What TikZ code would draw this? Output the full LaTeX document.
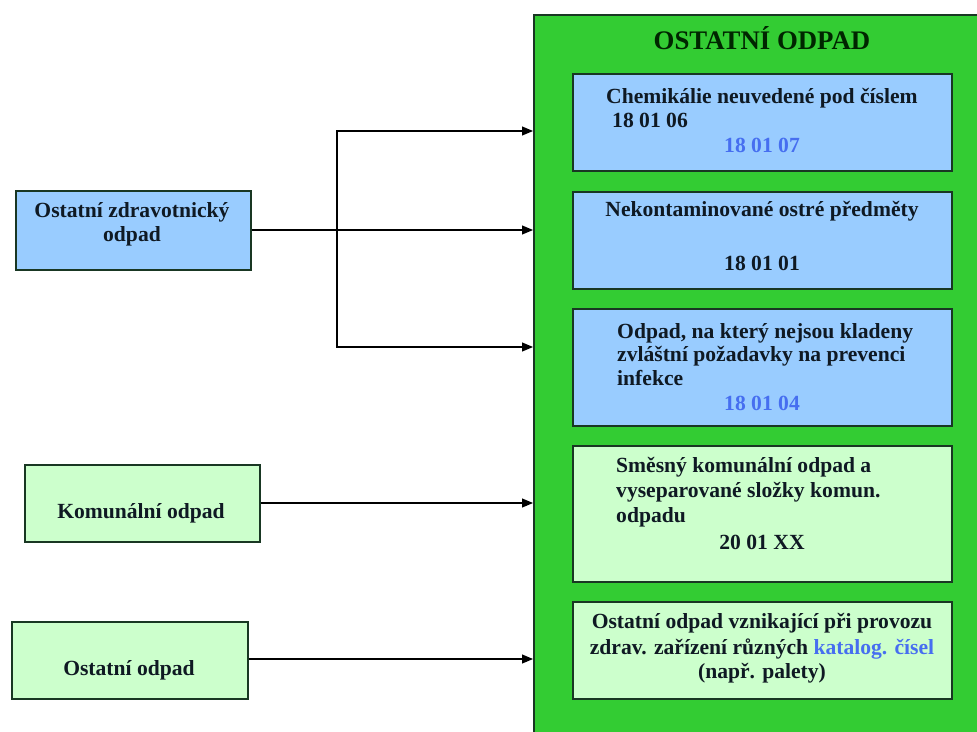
\documentclass[tikz,border=0pt]{standalone}
\usepackage{fontspec}
\setmainfont{Liberation Serif}
\usetikzlibrary{arrows.meta}
\definecolor{bigg}{RGB}{51,204,51}
\definecolor{lblue}{RGB}{153,204,255}
\definecolor{lgreen}{RGB}{204,255,204}
\definecolor{bord}{RGB}{25,55,35}
\definecolor{codeblue}{RGB}{70,110,240}
\definecolor{txt}{RGB}{15,25,35}
\tikzset{
  x=1pt, y=-1pt,
  box/.style={draw=bord, line width=1.6pt, inner sep=0pt},
  bluebox/.style={box, fill=lblue},
  greenbox/.style={box, fill=lgreen},
  tx/.style={inner sep=0pt, text=txt, font=\fontsize{21.6}{22}\selectfont\bfseries},
  arr/.style={line width=1.1pt, -{Triangle[length=11pt,width=9pt]}},
  ln/.style={line width=1.1pt}
}
\begin{document}
\begin{tikzpicture}
\clip (0,0) rectangle (977,731);
\fill[white] (0,0) rectangle (977,731);
% big container
\node[draw=bord, line width=1.6pt, fill=bigg, minimum width=470pt, minimum height=740pt, anchor=north west, inner sep=0pt] (main) at (533,14) {};
\node[tx, font=\fontsize{26.8}{28}\selectfont\bfseries, text=black!85!green, anchor=base] (title) at (762,49) {OSTATNÍ ODPAD};
% inner boxes
\node[bluebox, minimum width=379pt, minimum height=97pt, anchor=north west] (b1) at (572,73) {};
\node[bluebox, minimum width=379pt, minimum height=97pt, anchor=north west] (b2) at (572,191) {};
\node[bluebox, minimum width=379pt, minimum height=117pt, anchor=north west] (b3) at (572,308) {};
\node[greenbox, minimum width=379pt, minimum height=136pt, anchor=north west] (b4) at (572,445) {};
\node[greenbox, minimum width=379pt, minimum height=97pt, anchor=north west] (b5) at (572,601) {};
% texts box1
\node[tx, anchor=base west] (t11) at (606,103) {Chemikálie neuvedené pod číslem};
\node[tx, anchor=base west] (t12) at (612,127) {18 01 06};
\node[tx, anchor=base, text=codeblue] (t13) at (762,152) {18 01 07};
% box2
\node[tx, anchor=base] (t21) at (762,216) {Nekontaminované ostré předměty};
\node[tx, anchor=base] (t22) at (762,270) {18 01 01};
% box3
\node[tx, anchor=base west] (t31) at (617,338) {Odpad, na který nejsou kladeny};
\node[tx, anchor=base west] (t32) at (617,361) {zvláštní požadavky na prevenci};
\node[tx, anchor=base west] (t33) at (617,385) {infekce};
\node[tx, anchor=base, text=codeblue] (t34) at (762,410) {18 01 04};
% box4
\node[tx, anchor=base west] (t41) at (616,472) {Směsný komunální odpad a};
\node[tx, anchor=base west] (t42) at (616,497) {vyseparované složky komun.};
\node[tx, anchor=base west] (t43) at (616,522) {odpadu};
\node[tx, anchor=base] (t44) at (762,549) {20 01 XX};
% box5
\node[tx, anchor=base] (t51) at (762,628) {Ostatní odpad vznikající při provozu};
\node[tx, anchor=base] (t52) at (762,654) {zdrav. zařízení různých \textcolor{codeblue}{katalog. čísel}};
\node[tx, anchor=base] (t53) at (762,678) {(např. palety)};
% left boxes
\node[bluebox, minimum width=235pt, minimum height=79pt, anchor=north west] (l1) at (15,190) {};
\node[tx, anchor=base] (l1a) at (132,217) {Ostatní zdravotnický};
\node[tx, anchor=base] (l1b) at (132,241) {odpad};
\node[greenbox, minimum width=235pt, minimum height=77pt, anchor=north west] (l2) at (24,464) {};
\node[tx, anchor=base] (l2a) at (141,518) {Komunální odpad};
\node[greenbox, minimum width=236pt, minimum height=77pt, anchor=north west] (l3) at (11,621) {};
\node[tx, anchor=base] (l3a) at (129,675) {Ostatní odpad};
% connectors
\coordinate (j1) at (337,230);
\coordinate (a1) at (533,131);
\coordinate (a2) at (533,230);
\coordinate (a3) at (533,347);
\coordinate (a4) at (533,503);
\coordinate (a5) at (533,659);
\draw[ln] (l1.east |- j1) -- (j1);
\draw[arr] (j1) -- (a2);
\draw[arr] (j1) |- (a1);
\draw[arr] (j1) |- (a3);
\draw[arr] (l2.east |- a4) -- (a4);
\draw[arr] (l3.east |- a5) -- (a5);
\end{tikzpicture}
\end{document}
